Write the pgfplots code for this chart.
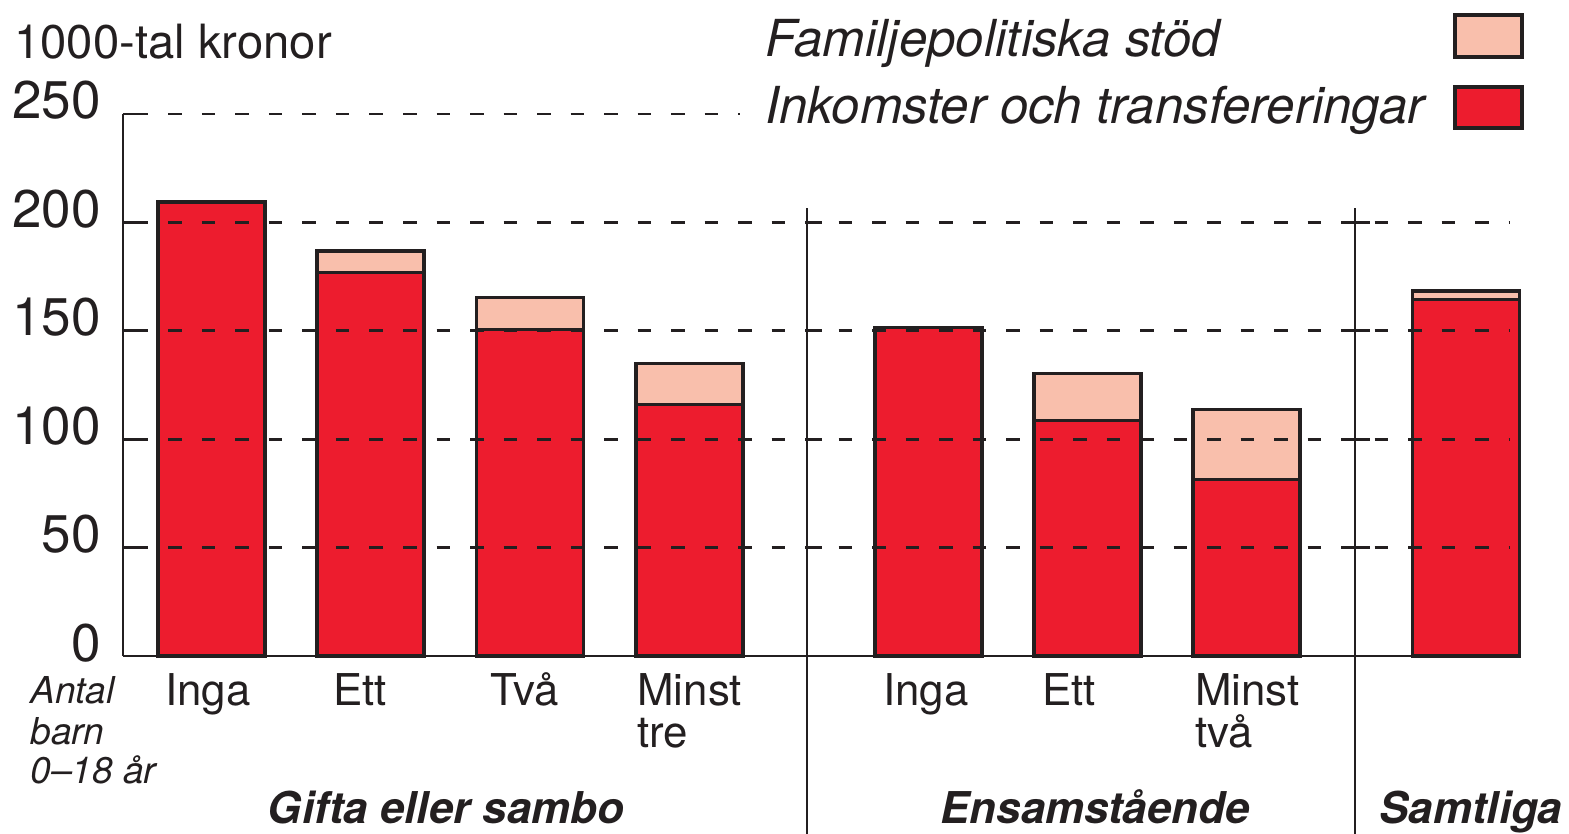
\documentclass[border=0pt]{standalone}
\usepackage{fontspec}
\setmainfont{TeX Gyre Heros}
\usepackage{pgfplots}
\usepackage{pgfplotstable}
\pgfplotsset{compat=1.18}

\definecolor{rod}{HTML}{ED1C2E}
\definecolor{rosa}{HTML}{F9BFAC}
\definecolor{kant}{HTML}{231F20}

% x = bar centre in px of the original, y = 1000-tal kronor
\pgfplotstableread{
x      y
211.5  209.4
370.5  176.9
530.0  150.7
689.5  116.1
928.5  151.5
1087.5 108.5
1246.5  81.3
1466.0 164.5
}\inkomster
\pgfplotstableread{
x      y
211.5   0.0
370.5   9.9
530.0  14.6
689.5  18.9
928.5   0.0
1087.5 21.9
1246.5 32.5
1466.0  3.9
}\famstod

\tikzset{
  grid/.style={kant, line width=1.35bp, dash pattern=on 6.75bp off 10bp},
  tck/.style={kant, line width=1.35bp},
  cat/.style={anchor=base west, inner sep=0pt, text=kant, font=\fontsize{22}{22}\selectfont},
  antal/.style={anchor=base west, inner sep=0pt, text=kant, font=\fontsize{18.6}{18.6}\selectfont\itshape},
  grp/.style={anchor=base, inner sep=0pt, text=kant, font=\fontsize{22}{22}\selectfont\bfseries\itshape},
  leg/.style={anchor=base west, inner sep=0pt, text=kant, font=\fontsize{25.6}{25.6}\selectfont\itshape},
}

\begin{document}
\begin{tikzpicture}
\useasboundingbox (-61.5bp,-89bp) rectangle (723bp,328bp);
\begin{axis}[
  x=0.5bp, y=1.084bp,
  xmin=123, xmax=1520, ymin=0, ymax=250,
  enlargelimits=false,
  clip=false,
  axis lines*=left,
  axis line style={kant, line width=1.4bp},
  xtick=\empty,
  ytick={0,50,100,150,200,250},
  major tick length=6bp,
  tick align=inside,
  tick style={kant, line width=1.35bp},
  /pgf/number format/assume math mode=true,
  yticklabel style={font=\fontsize{26.6}{26.6}\selectfont, text=kant, anchor=base east, inner sep=0pt, xshift=-11bp, yshift=-2.5bp},
  ybar stacked,
  bar width=53.5bp,
]
\draw[grid] (axis cs:135,250) -- (axis cs:740,250);
\draw[grid] (axis cs:135,200) -- (axis cs:1510,200);
\draw[grid] (axis cs:135,150) -- (axis cs:1510,150);
\draw[grid] (axis cs:135,100) -- (axis cs:1510,100);
\draw[grid] (axis cs:135,50) -- (axis cs:1510,50);
\draw[tck] (axis cs:807,200) -- (axis cs:822,200);
\draw[tck] (axis cs:807,150) -- (axis cs:822,150);
\draw[tck] (axis cs:807,100) -- (axis cs:822,100);
\draw[tck] (axis cs:807,50) -- (axis cs:822,50);
\draw[tck] (axis cs:1355,200) -- (axis cs:1370,200);
\draw[tck] (axis cs:1355,150) -- (axis cs:1370,150);
\draw[tck] (axis cs:1355,100) -- (axis cs:1370,100);
\draw[tck] (axis cs:1355,50) -- (axis cs:1370,50);

\addplot[fill=rod, draw=kant, line width=1.7bp] table[x=x, y=y] {\inkomster};
\addplot[fill=rosa, draw=kant, line width=1.7bp] table[x=x, y=y] {\famstod};

\draw[kant, line width=1.4bp] (axis cs:807,206.6) -- (axis cs:807,-82.1);
\draw[kant, line width=1.4bp] (axis cs:1355,206.6) -- (axis cs:1355,-82.1);

\node[anchor=base west, inner sep=0pt, text=kant, font=\fontsize{23.7}{23.7}\selectfont] at (axis cs:14,275.8) {1000-tal kronor};

\node[leg] at (axis cs:765,276.3) {Familjepolitiska stöd};
\node[leg] at (axis cs:765,245.8) {Inkomster och transfereringar};
\draw[fill=rosa, draw=kant, line width=1.7bp] (axis cs:1455,295.7) rectangle (axis cs:1522,276.3);
\draw[fill=rod, draw=kant, line width=1.7bp] (axis cs:1455,262.5) rectangle (axis cs:1522,243.5);

\node[cat] at (axis cs:165,-22.6) {Inga};
\node[cat] at (axis cs:333,-22.6) {Ett};
\node[cat] at (axis cs:490,-22.6) {Två};
\node[cat] at (axis cs:637,-22.6) {Minst};
\node[cat] at (axis cs:637,-42.4) {tre};
\node[cat] at (axis cs:883,-22.6) {Inga};
\node[cat] at (axis cs:1042,-22.6) {Ett};
\node[cat] at (axis cs:1195,-22.6) {Minst};
\node[cat] at (axis cs:1195,-42.4) {två};

\node[antal] at (axis cs:30,-21.7) {Antal};
\node[antal] at (axis cs:30,-40.6) {barn};
\node[antal] at (axis cs:30,-58.6) {0–18 år};

\node[grp] at (axis cs:446,-77.4) {Gifta eller sambo};
\node[grp] at (axis cs:1095,-77.4) {Ensamstående};
\node[grp] at (axis cs:1471,-77.4) {Samtliga};
\end{axis}
\end{tikzpicture}
\end{document}
